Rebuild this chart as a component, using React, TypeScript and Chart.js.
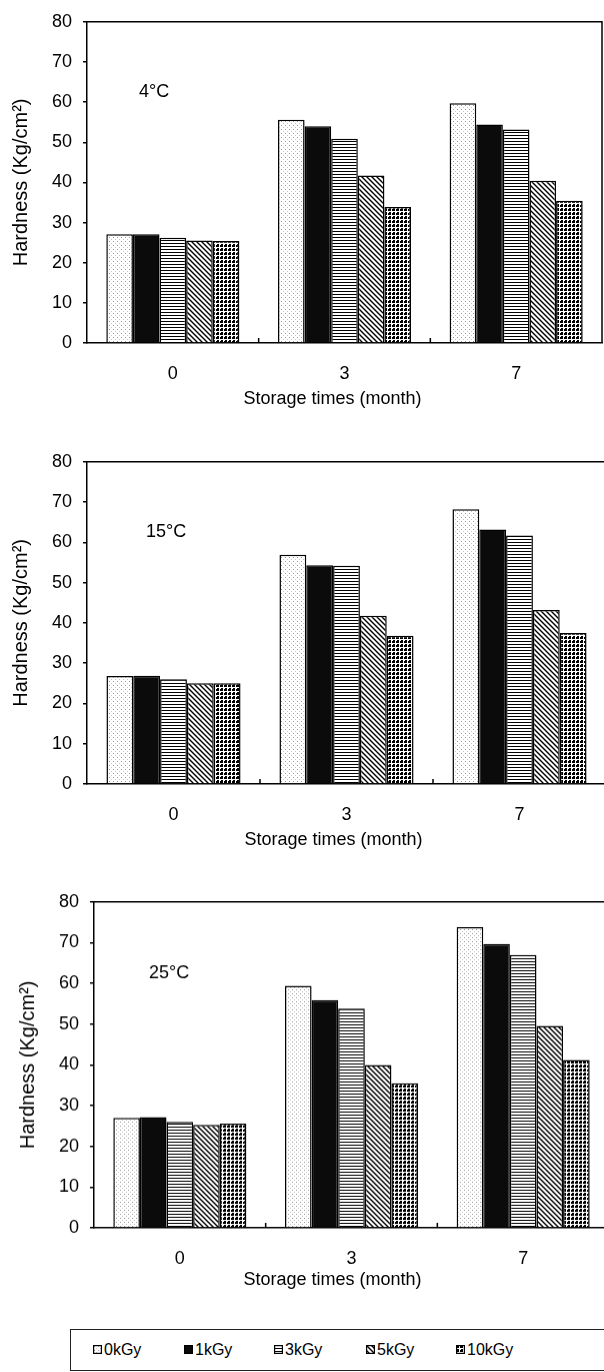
import React, { useEffect, useRef } from "react";
import { Chart, registerables } from "chart.js";

Chart.register(...registerables);

// ---------------- data ----------------
const categories = ["0", "3", "7"];
const doseLabels = ["0kGy", "1kGy", "3kGy", "5kGy", "10kGy"];
const tempLabels = ["4°C", "15°C", "25°C"];
const yMin = 0;
const yMax = 80;
const yStep = 10;
const yTitle = "Hardness (Kg/cm²)";
const xTitle = "Storage times (month)";

// 4 °C
const h4_0 = [27.1, 55.6, 59.7];
const h4_1 = [27.1, 54.0, 54.4];
const h4_3 = [26.2, 50.9, 53.2];
const h4_5 = [25.5, 41.7, 40.4];
const h4_10 = [25.4, 33.9, 35.4];

// 15 °C
const h15_0 = [26.8, 56.9, 68.2];
const h15_1 = [26.9, 54.3, 63.2];
const h15_3 = [26.0, 54.2, 61.7];
const h15_5 = [25.0, 41.8, 43.2];
const h15_10 = [25.0, 36.8, 37.5];

// 25 °C
const h25_0 = [27.0, 59.4, 73.8];
const h25_1 = [27.2, 55.9, 69.7];
const h25_3 = [26.0, 53.8, 67.0];
const h25_5 = [25.3, 40.0, 49.6];
const h25_10 = [25.6, 35.5, 41.2];

const panelSeries = [
  [h4_0, h4_1, h4_3, h4_5, h4_10],
  [h15_0, h15_1, h15_3, h15_5, h15_10],
  [h25_0, h25_1, h25_3, h25_5, h25_10],
];

// ---------------- layout (page pixels) ----------------
const FONT = '"Liberation Sans", Arial, Helvetica, sans-serif';
const panelLayout = [
  { canvasLeft: 0, canvasTop: 0, plotLeft: 87, plotTop: 19, plotRight: 602, plotBottom: 343, labelDx: 52, labelValue: 62.5, titleDx: -12, titleDy: 56 },
  { canvasLeft: 0, canvasTop: 440, plotLeft: 87, plotTop: 459.3, plotRight: 606, plotBottom: 784.3, labelDx: 59, labelValue: 62.5, titleDx: -13, titleDy: 56 },
  { canvasLeft: 7, canvasTop: 880, plotLeft: 94, plotTop: 900.7, plotRight: 609, plotBottom: 1227.7, labelDx: 55, labelValue: 62.5, titleDx: -19, titleDy: 52 },
];
const X_AXIS_HEIGHT = 68;

// ---------------- patterns ----------------
function makeTile(w: number, h: number, draw: (c: CanvasRenderingContext2D) => void) {
  const t = document.createElement("canvas");
  t.width = w;
  t.height = h;
  const c = t.getContext("2d")!;
  draw(c);
  return t;
}

function makeFill(ctx: CanvasRenderingContext2D, i: number): string | CanvasPattern {
  if (i === 1) return "#0b0b0b";
  let tile: HTMLCanvasElement;
  if (i === 0) {
    tile = makeTile(4, 4, (c) => {
      c.fillStyle = "#fff";
      c.fillRect(0, 0, 4, 4);
      c.fillStyle = "#9a9a9a";
      c.fillRect(1, 1, 1, 1);
      c.fillStyle = "#c4c4c4";
      c.fillRect(3, 3, 1, 1);
    });
  } else if (i === 2) {
    tile = makeTile(3, 3, (c) => {
      c.fillStyle = "#fff";
      c.fillRect(0, 0, 3, 3);
      c.fillStyle = "#000";
      c.fillRect(0, 0, 3, 1);
    });
  } else if (i === 3) {
    tile = makeTile(5, 5, (c) => {
      c.fillStyle = "#fff";
      c.fillRect(0, 0, 5, 5);
      c.strokeStyle = "#000";
      c.lineWidth = 1.4;
      c.beginPath();
      c.moveTo(-1, -1);
      c.lineTo(6, 6);
      c.moveTo(-1, 4);
      c.lineTo(1, 6);
      c.moveTo(4, -1);
      c.lineTo(6, 1);
      c.stroke();
    });
  } else {
    tile = makeTile(4, 4, (c) => {
      c.fillStyle = "#fff";
      c.fillRect(0, 0, 4, 4);
      c.fillStyle = "#000";
      c.fillRect(0, 0, 3, 3);
      c.fillStyle = "#fff";
      c.fillRect(0, 0, 1, 1);
    });
  }
  return ctx.createPattern(tile, "repeat")!;
}

// ---------------- plugin ----------------
const framePlugin = {
  id: "frame",
  afterDraw(chart: any, _args: any, opts: any) {
    const { ctx, chartArea, scales } = chart;
    const { left, top, right, bottom } = chartArea;
    ctx.save();
    ctx.strokeStyle = "#000";
    ctx.lineWidth = 1.5;
    ctx.beginPath();
    ctx.moveTo(left, top);
    ctx.lineTo(right, top);
    ctx.lineTo(right, bottom);
    ctx.stroke();
    const xs = scales.x;
    ctx.beginPath();
    for (let i = 0; i < categories.length - 1; i++) {
      const bx = (xs.getPixelForValue(i) + xs.getPixelForValue(i + 1)) / 2;
      ctx.moveTo(bx, bottom);
      ctx.lineTo(bx, bottom - 5);
    }
    ctx.stroke();
    ctx.fillStyle = "#000";
    ctx.font = `18px ${FONT}`;
    ctx.textBaseline = "middle";
    ctx.textAlign = "left";
    ctx.fillText(opts.label, left + opts.dx, scales.y.getPixelForValue(opts.value));
    // x-axis title
    ctx.font = `18px ${FONT}`;
    ctx.textAlign = "center";
    ctx.fillText(opts.xTitle, (left + right) / 2 + opts.titleDx, bottom + opts.titleDy);
    ctx.restore();
  },
};

// ---------------- components ----------------
function Panel({ index }: { index: number }) {
  const ref = useRef<HTMLCanvasElement>(null);
  const L = panelLayout[index];
  const width = L.plotRight - L.canvasLeft + 2;
  const height = L.plotBottom - L.canvasTop + X_AXIS_HEIGHT;

  useEffect(() => {
    const canvas = ref.current!;
    const ctx = canvas.getContext("2d")!;
    const series = panelSeries[index];
    const chart = new Chart(canvas, {
      type: "bar",
      data: {
        labels: categories,
        datasets: series.map((d, i) => ({
          label: doseLabels[i],
          data: d,
          backgroundColor: makeFill(ctx, i) as any,
          borderColor: "#000",
          borderWidth: 1.5,
          categoryPercentage: 0.775,
          barPercentage: 1,
        })),
      },
      options: {
        responsive: false,
        animation: false,
        devicePixelRatio: 1,
        layout: {
          padding: {
            top: L.plotTop - L.canvasTop,
            left: 0,
            right: width - (L.plotRight - L.canvasLeft),
            bottom: 0,
          },
        },
        plugins: {
          legend: { display: false },
          tooltip: { enabled: false },
          frame: {
            label: tempLabels[index],
            dx: L.labelDx,
            value: L.labelValue,
            xTitle,
            titleDx: L.titleDx,
            titleDy: L.titleDy,
          },
        } as any,
        scales: {
          x: {
            grid: { display: false, drawTicks: false },
            border: { display: true, color: "#000", width: 1.5 },
            ticks: { color: "#000", font: { family: FONT, size: 18 }, padding: 20 },
            title: { display: false },
            afterFit: (s: any) => {
              s.height = X_AXIS_HEIGHT;
            },
          },
          y: {
            min: yMin,
            max: yMax,
            ticks: { stepSize: yStep, color: "#000", font: { family: FONT, size: 18 }, padding: 11 },
            grid: { drawOnChartArea: false, drawTicks: true, tickLength: 4, color: "#000", lineWidth: 1.5 },
            border: { display: true, color: "#000", width: 1.5 },
            title: {
              display: true,
              text: yTitle,
              color: "#000",
              font: { family: FONT, size: 20 },
              padding: { top: 9, bottom: 0 },
            },
            afterFit: (s: any) => {
              s.width = L.plotLeft - L.canvasLeft;
            },
          },
        },
      } as any,
      plugins: [framePlugin],
    });
    return () => chart.destroy();
  }, [index]);

  return (
    <canvas
      ref={ref}
      width={width}
      height={height}
      style={{ position: "absolute", left: L.canvasLeft, top: L.canvasTop, width, height, display: "block" }}
    />
  );
}

function Swatch({ index }: { index: number }) {
  const ref = useRef<HTMLCanvasElement>(null);
  useEffect(() => {
    const c = ref.current!;
    const ctx = c.getContext("2d")!;
    ctx.clearRect(0, 0, 9, 9);
    ctx.fillStyle = makeFill(ctx, index) as any;
    ctx.fillRect(0, 0, 9, 9);
    ctx.strokeStyle = "#000";
    ctx.lineWidth = 1.2;
    ctx.strokeRect(0.6, 0.6, 7.8, 7.8);
  }, [index]);
  return <canvas ref={ref} width={9} height={9} style={{ width: 9, height: 9, display: "block", marginRight: 2 }} />;
}

const legendItemLeft = [22, 113, 203, 295, 385];

function Legend() {
  return (
    <div
      style={{
        position: "absolute",
        left: 70,
        top: 1329,
        width: 560,
        height: 42,
        border: "1.5px solid #222",
        boxSizing: "border-box",
      }}
    >
      {doseLabels.map((lab, i) => (
        <div
          key={lab}
          style={{
            position: "absolute",
            left: legendItemLeft[i],
            top: 0,
            height: 39,
            display: "flex",
            alignItems: "center",
            font: `16px ${FONT}`,
            color: "#000",
          }}
        >
          <Swatch index={i} />
          <span>{lab}</span>
        </div>
      ))}
    </div>
  );
}

export default function App() {
  return (
    <div
      style={{
        position: "absolute",
        left: 0,
        top: 0,
        width: 604,
        height: 1372,
        overflow: "hidden",
        background: "#fff",
      }}
    >
      <Panel index={0} />
      <Panel index={1} />
      <Panel index={2} />
      <Legend />
    </div>
  );
}
